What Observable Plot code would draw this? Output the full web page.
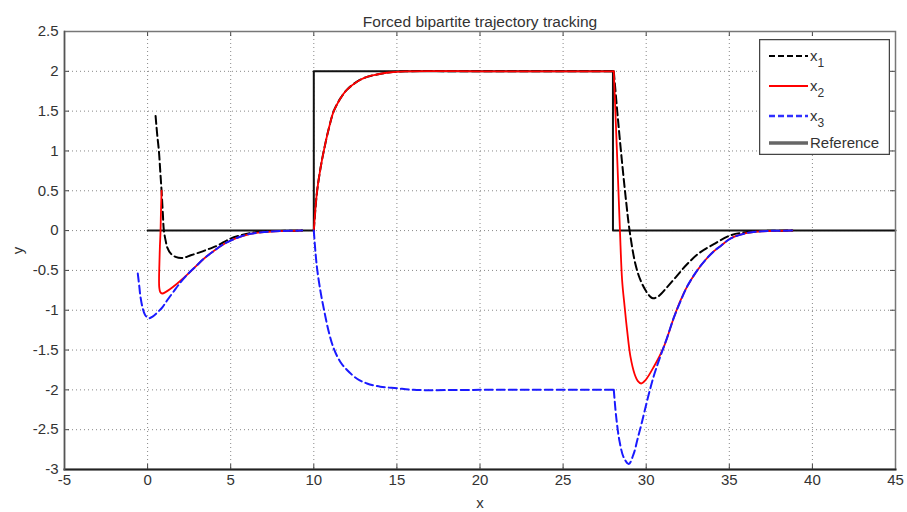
<!DOCTYPE html>
<html><head><meta charset="utf-8">
<script src="https://cdn.jsdelivr.net/npm/d3@7"></script>
<script src="https://cdn.jsdelivr.net/npm/@observablehq/plot@0.6"></script>
<style>
body{margin:0;background:#fff;}
#wrap{position:relative;width:907px;height:512px;font-family:"Liberation Sans",Arial,sans-serif;}
#legend{position:absolute;left:759px;top:39px;}
</style></head><body><div id="wrap"></div>
<script>
const titleText = "Forced bipartite trajectory tracking";
const xLabel = "x", yLabel = "y";
const xTicks = [-5,0,5,10,15,20,25,30,35,40,45];
const yTicks = [-3,-2.5,-2,-1.5,-1,-0.5,0,0.5,1,1.5,2,2.5];

const x1 = [[0.48,1.44],[0.58,1.2],[0.68,1.0],[0.76,0.75],[0.84,0.5],[0.92,0.2],[0.98,0],[1.1,-0.14],[1.18,-0.21],[1.4,-0.29],
  [1.68,-0.33],[2.08,-0.345],[2.6,-0.31],[3.18,-0.27],[3.7,-0.23],[4.19,-0.19],[4.99,-0.1],[5.6,-0.06],[6.2,-0.03],[7,-0.012],
  [8,-0.004],[9.3,0],[10,0],[10.1,0.28],[10.2,0.5],[10.4,0.78],[10.6,1.0],[10.9,1.28],[11.2,1.5],[11.6,1.66],[12,1.77],[12.6,1.87],
  [13.2,1.93],[13.8,1.96],[14.5,1.985],[15.5,2],[20,2],[24,2],[28.05,2],
  [28.3,1.4],[28.56,0.83],[28.8,0.35],[29.0,0],[29.35,-0.42],[29.65,-0.62],[29.96,-0.75],[30.2,-0.82],[30.4,-0.85],[30.7,-0.83],
  [31.26,-0.71],[31.8,-0.58],[32.47,-0.42],[33.2,-0.28],[34.07,-0.17],[35.07,-0.06],[36,-0.02],[37,-0.005],[38.8,0]];

const x2 = [[0.84,0.5],[0.8,0.2],[0.78,0],[0.74,-0.2],[0.71,-0.42],[0.69,-0.6],[0.7,-0.71],[0.76,-0.77],[0.88,-0.79],[1.1,-0.77],
  [1.38,-0.73],[1.75,-0.67],[1.98,-0.63],[2.4,-0.55],[2.9,-0.45],[3.4,-0.35],[3.96,-0.26],[4.5,-0.18],[5,-0.125],[5.6,-0.075],
  [6.2,-0.04],[7,-0.018],[8,-0.006],[9.3,0],[10,0],[10.1,0.28],[10.2,0.5],[10.4,0.78],[10.6,1.0],[10.9,1.28],[11.2,1.5],[11.6,1.66],
  [12,1.77],[12.6,1.87],[13.2,1.93],[13.8,1.96],[14.5,1.985],[15.5,2],[20,2],[24,2],[28.05,2],
  [28.27,0.83],[28.42,0],[28.55,-0.62],[28.7,-0.95],[28.85,-1.25],[29.05,-1.58],[29.3,-1.8],[29.5,-1.89],
  [29.7,-1.92],[29.95,-1.88],[30.46,-1.71],[31.06,-1.46],[31.65,-1.1],[32.06,-0.88],[32.47,-0.7],[33.07,-0.5],[33.6,-0.36],
  [34.07,-0.26],[34.5,-0.19],[35.07,-0.1],[36.08,-0.03],[37,-0.008],[38.8,0]];

const x3 = [[-0.59,-0.54],[-0.5,-0.7],[-0.43,-0.83],[-0.3,-0.97],[-0.15,-1.06],[0.07,-1.1],[0.3,-1.08],[0.58,-1.03],[0.9,-0.96],
  [1.18,-0.875],[1.55,-0.77],[1.98,-0.65],[2.4,-0.55],[2.9,-0.45],[3.4,-0.35],[3.96,-0.26],[4.5,-0.18],[5,-0.125],[5.6,-0.075],
  [6.2,-0.04],[7,-0.018],[8,-0.006],[9.3,0],[10,0],[10.1,-0.27],[10.2,-0.48],[10.4,-0.76],[10.6,-0.98],[10.9,-1.27],[11.2,-1.48],
  [11.6,-1.65],[12,-1.75],[12.6,-1.86],[13.2,-1.92],[14,-1.96],[15,-1.98],[16,-2],[20,-2],[24,-2],[28.05,-2],
  [28.2,-2.35],[28.4,-2.65],[28.65,-2.85],[28.95,-2.93],[29.25,-2.8],
  [29.5,-2.6],[29.75,-2.4],[30.1,-2.1],[30.45,-1.83],[30.85,-1.58],[31.25,-1.35],[31.65,-1.1],[32.06,-0.89],[32.47,-0.7],
  [33.07,-0.5],[33.6,-0.36],[34.07,-0.26],[34.5,-0.19],[35.07,-0.1],[36.08,-0.03],[37,-0.008],[38.8,0]];

const reference = [[0,0],[10,0],[10,2],[28,2],[28,0],[45,0]];
const restartX = [10];      // the simulated curves restart here (gap before it)
const cornerX = [28.05];    // sharp corner inside a curve

const legendNames = ["x1","x2","x3","Reference"];
const legendColors = ["#000000","#ff0000","#3030ff","#666666"];
const legendDash = ["6,3",null,"6,3",null];
const legendWidths = [2,1.8,2.5,3.5];

function pieces(series){
  const rows=[]; let s=0;
  series.forEach(([x,y])=>{
    if(restartX.includes(x)) s++;
    rows.push({x,y,s});
    if(cornerX.includes(x)){ s++; rows.push({x,y,s}); }
  });
  return rows;
}

const W=907,H=512,mL=64,mR=12,mT=31,mB=43;
const fw=W-mL-mR, fh=H-mT-mB, tk=5;
const font = "'Liberation Sans', Arial, sans-serif";

const chart = Plot.plot({
  width:W, height:H, marginLeft:mL, marginRight:mR, marginTop:mT, marginBottom:mB,
  style:{fontFamily:font, fontSize:"15px", color:"#333", background:"#fff"},
  x:{domain:[-5,45]},
  y:{domain:[-3,2.5]},
  marks:[
    Plot.gridX(xTicks,{stroke:"#888",strokeOpacity:1,strokeDasharray:"1,3"}),
    Plot.gridY(yTicks,{stroke:"#888",strokeOpacity:1,strokeDasharray:"1,3"}),
    Plot.tickX(xTicks,{x:d=>d, insetTop:fh-tk, stroke:"#444"}),
    Plot.tickX(xTicks,{x:d=>d, insetBottom:fh-tk, stroke:"#444"}),
    Plot.tickY(yTicks,{y:d=>d, insetRight:fw-tk, stroke:"#444"}),
    Plot.tickY(yTicks,{y:d=>d, insetLeft:fw-tk, stroke:"#444"}),
    Plot.axisX(xTicks,{anchor:"bottom", tickSize:0, tickPadding:5, tickFormat:d=>String(d), fill:"#333",
      label:xLabel, labelAnchor:"center", labelOffset:38, labelArrow:"none"}),
    Plot.axisY(yTicks,{anchor:"left", tickSize:0, tickPadding:6, tickFormat:d=>String(d), fill:"#333",
      label:yLabel, labelAnchor:"center", labelOffset:52, labelArrow:"none"}),
    Plot.text([titleText],{frameAnchor:"top", dy:-16, fontSize:15.5, fill:"#333"}),
    Plot.line(reference,{x:d=>d[0],y:d=>d[1],stroke:"#111",strokeWidth:2}),
    Plot.line(pieces(x1),{x:"x",y:"y",z:"s",stroke:"#000",strokeWidth:2,strokeDasharray:"8,4",curve:"catmull-rom"}),
    Plot.line(pieces(x2),{x:"x",y:"y",z:"s",stroke:"#ff0000",strokeWidth:1.8,curve:"catmull-rom"}),
    Plot.line(pieces(x3),{x:"x",y:"y",z:"s",stroke:"#1a1aff",strokeWidth:2,strokeDasharray:"8,4",curve:"catmull-rom"}),
    Plot.frame({stroke:"#777",strokeWidth:1.5}),
    Plot.frame({anchor:"bottom",stroke:"#222",strokeWidth:2}),
    Plot.frame({anchor:"left",stroke:"#555",strokeWidth:1.5}),
  ]
});
const wrap = document.getElementById("wrap");
wrap.appendChild(chart);

// legend
const lw=131, lh=116;
const lg = d3.select(wrap).append("div").attr("id","legend")
  .append("svg").attr("width",lw).attr("height",lh).style("font-family",font);
lg.append("rect").attr("x",0.5).attr("y",0.5).attr("width",lw-1).attr("height",lh-1)
  .attr("fill","#fff").attr("stroke","#444").attr("stroke-width",1.5);
const rowY = [17,47,77,104];
legendNames.forEach((n,i)=>{
  const g = lg.append("g");
  g.append("line").attr("x1",10).attr("x2",49).attr("y1",rowY[i]).attr("y2",rowY[i])
    .attr("stroke",legendColors[i]).attr("stroke-width",legendWidths[i])
    .attr("stroke-dasharray",legendDash[i]);
  const t = g.append("text").attr("x",51).attr("y",rowY[i]+5).attr("font-size",15).attr("fill","#333");
  if (n.startsWith("x")) {
    t.append("tspan").text("x");
    t.append("tspan").attr("dy",6).attr("font-size",12).text(n.slice(1));
  } else t.text(n);
});
</script></body></html>
